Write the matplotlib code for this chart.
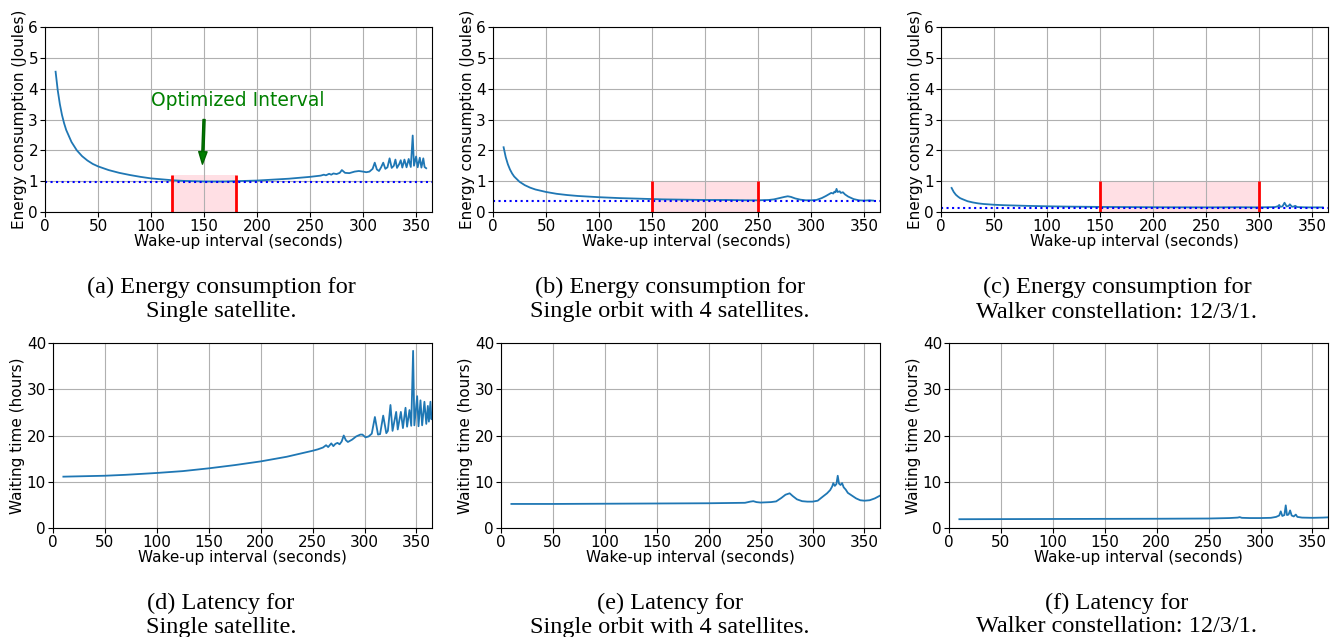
import matplotlib
matplotlib.use('Agg')
import matplotlib.pyplot as plt


# Energy consumption and latency vs. wake-up interval, six panels.

# (a) single satellite, energy
ea_x = [10, 12, 14, 16, 18, 20, 25, 30, 35, 40, 45, 50, 60, 70, 80, 90, 100,
        110, 120, 130, 140, 150, 160, 170, 180, 190, 200, 210, 220, 230, 240,
        250, 255, 260, 263, 265, 268, 270, 272, 275, 278, 280, 283, 287, 292,
        296, 300, 303, 306, 309, 311, 313, 315, 317, 319, 321, 323, 325, 327,
        329, 330.5, 332, 334, 335.5, 337, 339, 341, 343, 345, 346.8, 348, 350,
        351.5, 353.5, 355, 356.8, 358, 359.5]
ea_y = [4.55, 3.95, 3.5, 3.15, 2.88, 2.66, 2.27, 2.0, 1.81, 1.67, 1.56, 1.48,
        1.36, 1.27, 1.2, 1.14, 1.09, 1.06, 1.03, 1.01, 1.0, 0.99, 0.99, 0.99,
        1.0, 1.01, 1.02, 1.04, 1.06, 1.08, 1.11, 1.14, 1.16, 1.18, 1.21, 1.19,
        1.24, 1.21, 1.25, 1.23, 1.27, 1.36, 1.27, 1.26, 1.31, 1.33, 1.31, 1.29,
        1.31, 1.4, 1.6, 1.38, 1.33, 1.45, 1.6, 1.4, 1.45, 1.74, 1.43, 1.5, 1.7,
        1.43, 1.55, 1.68, 1.44, 1.7, 1.45, 1.72, 1.46, 2.48, 1.5, 1.8, 1.45,
        1.76, 1.44, 1.74, 1.46, 1.42]

# (b) single orbit with 4 satellites, energy
eb_x = [10, 12, 14, 16, 18, 20, 25, 30, 35, 40, 50, 60, 70, 80, 90, 100, 120,
        140, 160, 180, 200, 220, 240, 250, 260, 265, 270, 275, 278, 281, 285,
        290, 295, 300, 305, 310, 314, 317, 319, 321, 322, 323, 324, 325, 327,
        328, 330, 332, 335, 340, 345, 350, 355, 358.5]
eb_y = [2.1, 1.78, 1.55, 1.38, 1.25, 1.15, 0.98, 0.87, 0.79, 0.73, 0.65, 0.59,
        0.55, 0.52, 0.5, 0.48, 0.45, 0.43, 0.41, 0.4, 0.39, 0.39, 0.38, 0.38,
        0.39, 0.41, 0.45, 0.49, 0.51, 0.49, 0.44, 0.4, 0.38, 0.38, 0.39, 0.45,
        0.52, 0.58, 0.62, 0.6, 0.66, 0.64, 0.75, 0.65, 0.67, 0.62, 0.64, 0.57,
        0.5, 0.42, 0.38, 0.37, 0.38, 0.37]

# (c) Walker constellation 12/3/1, energy
ec_x = [10, 12, 14, 16, 18, 20, 25, 30, 35, 40, 50, 60, 70, 80, 100, 120, 150,
        200, 250, 280, 300, 315, 318, 319, 320, 322, 324, 326, 328, 329, 331,
        333, 334, 336, 345, 360]
ec_y = [0.78, 0.65, 0.56, 0.5, 0.45, 0.42, 0.35, 0.31, 0.28, 0.26, 0.235, 0.22,
        0.21, 0.2, 0.185, 0.175, 0.165, 0.155, 0.15, 0.155, 0.15, 0.16, 0.19,
        0.23, 0.17, 0.18, 0.3, 0.18, 0.2, 0.25, 0.17, 0.18, 0.2, 0.16, 0.15,
        0.15]

# (d) single satellite, latency
la_x = [10, 30, 50, 70, 100, 125, 150, 175, 200, 225, 250, 255, 260, 263, 265,
        268, 270, 272, 274, 276, 278, 280, 282, 284, 288, 292, 296, 298, 301,
        304, 307, 310, 313, 315, 318, 321, 322.5, 325, 327, 330.5, 332, 335,
        337, 339.5, 341, 343.3, 345, 346.8, 348, 350.7, 352, 353.9, 355.5,
        357.7, 359.5, 361, 362, 363.5, 364.5, 365]
la_y = [11.1, 11.2, 11.3, 11.5, 11.9, 12.3, 12.9, 13.6, 14.4, 15.4, 16.7, 17.0,
        17.4, 17.9, 17.5, 18.3, 17.7, 18.2, 18.4, 18.1, 18.7, 20.0, 19.0, 18.6,
        19.1, 19.8, 20.2, 20.2, 19.6, 19.8, 20.4, 24.0, 20.2, 20.3, 24.3, 20.5,
        21.0, 26.6, 21.0, 25.1, 21.3, 25.1, 21.6, 26.0, 21.9, 25.5, 22.1, 38.3,
        22.2, 28.5, 22.0, 27.6, 22.2, 27.3, 22.5, 26.4, 23.0, 27.3, 23.5, 24.5]

# (e) single orbit with 4 satellites, latency
lb_x = [10, 50, 100, 150, 200, 235, 240, 243, 246, 250, 260, 265, 270, 274,
        278, 281, 285, 290, 295, 300, 305, 310, 314, 317, 319, 320, 321.5, 323,
        324.3, 325.5, 327, 328.5, 330, 332, 334, 336, 338, 342, 346, 350, 355,
        360, 365]
lb_y = [5.2, 5.2, 5.25, 5.3, 5.35, 5.45, 5.7, 5.8, 5.6, 5.5, 5.6, 5.75, 6.5,
        7.2, 7.5, 6.9, 6.2, 5.8, 5.7, 5.7, 5.9, 6.8, 7.5, 8.2, 9.0, 9.7, 9.1,
        9.5, 11.3, 9.6, 9.3, 9.7, 8.8, 8.3, 7.6, 7.3, 7.0, 6.4, 6.0, 5.9, 6.0,
        6.4, 7.0]

# (f) Walker constellation 12/3/1, latency
lc_x = [10, 100, 200, 250, 270, 278, 280, 282, 290, 300, 310, 315, 318, 319.5,
        321, 323, 324.3, 325.5, 327, 328.5, 330, 332, 334, 335.5, 340, 350, 360,
        365]
lc_y = [1.9, 1.95, 2.0, 2.05, 2.15, 2.25, 2.35, 2.2, 2.15, 2.15, 2.2, 2.4, 2.7,
        3.6, 2.6, 2.8, 4.9, 2.8, 2.9, 3.8, 2.7, 2.5, 2.9, 2.4, 2.25, 2.2, 2.25,
        2.3]

# minimum energy reference lines and optimized ranges
min_energy = [0.98, 0.36, 0.13]
opt_ranges = [(120, 180, 1.2), (150, 250, 1.0), (150, 300, 1.0)]

captions_top = [('(a) Energy consumption for', 'Single satellite.'),
                ('(b) Energy consumption for', 'Single orbit with 4 satellites.'),
                ('(c) Energy consumption for', 'Walker constellation: 12/3/1.')]
captions_bot = [('(d) Latency for', 'Single satellite.'),
                ('(e) Latency for', 'Single orbit with 4 satellites.'),
                ('(f) Latency for', 'Walker constellation: 12/3/1.')]

W, H = 1333, 637
fig = plt.figure(figsize=(W / 100, H / 100), dpi=100)

def px_axes(left, right, top, bottom):
    return fig.add_axes([left / W, 1 - bottom / H, (right - left) / W,
                         (bottom - top) / H])

line_color = '#1f77b4'
top_lefts = [45, 493, 941]
bot_lefts = [53, 501, 949]
cap_x = [221, 670, 1117]
fs = 11

energy = [(ea_x, ea_y), (eb_x, eb_y), (ec_x, ec_y)]
latency = [(la_x, la_y), (lb_x, lb_y), (lc_x, lc_y)]

for i in range(3):
    ax = px_axes(top_lefts[i], top_lefts[i] + 387, 27, 212)
    lo, hi, h = opt_ranges[i]
    ax.fill_between([lo, hi], 0, h, color='pink', alpha=0.5, lw=0)
    ax.plot(energy[i][0], energy[i][1], color=line_color, lw=1.3)
    ax.axhline(min_energy[i], color='blue', ls=':', lw=1.5)
    ax.vlines([lo, hi], 0, h, color='red', lw=2)
    ax.set_xlim(0, 365)
    ax.set_ylim(0, 6)
    ax.set_xticks(range(0, 351, 50))
    ax.set_yticks(range(0, 7))
    ax.grid(True)
    ax.set_xlabel('Wake-up interval (seconds)', fontsize=fs, labelpad=0)
    ax.set_ylabel('Energy consumption (Joules)', fontsize=fs, labelpad=1)
    ax.tick_params(labelsize=fs, pad=1.5)
    if i == 0:
        ax.text(100, 3.63, 'Optimized Interval', color='green', fontsize=13.5,
                va='center')
        ax.annotate('', xy=(148.5, 1.55), xytext=(150, 3.0),
                    arrowprops=dict(facecolor='green', edgecolor='darkgreen',
                                    width=1.5, headwidth=6, headlength=9))

    ax = px_axes(bot_lefts[i], top_lefts[i] + 387, 343, 528)
    ax.plot(latency[i][0], latency[i][1], color=line_color, lw=1.3)
    ax.set_xlim(0, 365)
    ax.set_ylim(0, 40)
    ax.set_xticks(range(0, 351, 50))
    ax.set_yticks(range(0, 41, 10))
    ax.grid(True)
    ax.set_xlabel('Wake-up interval (seconds)', fontsize=fs, labelpad=0)
    ax.set_ylabel('Waiting time (hours)', fontsize=fs, labelpad=1)
    ax.tick_params(labelsize=fs, pad=1.5)

    for (l1, l2), y1, y2 in [(captions_top[i], 287, 312),
                             (captions_bot[i], 603, 627)]:
        fig.text(cap_x[i] / W, 1 - y1 / H, l1, ha='center', va='center',
                 family='Liberation Serif', fontsize=17.5)
        fig.text(cap_x[i] / W, 1 - y2 / H, l2, ha='center', va='center',
                 family='Liberation Serif', fontsize=17.5)

plt.savefig('out.png', dpi=100)
plt.close()
